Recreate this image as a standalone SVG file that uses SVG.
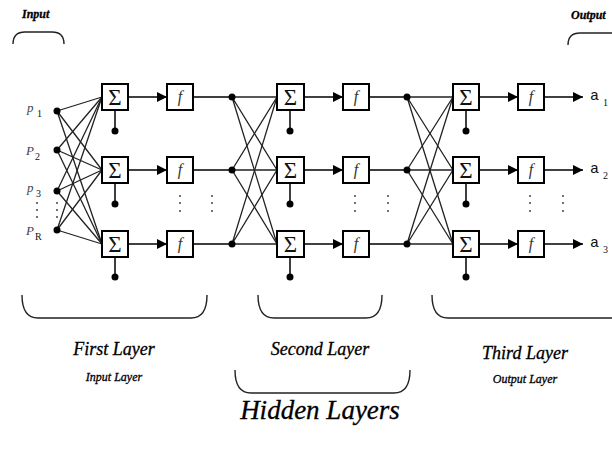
<svg xmlns="http://www.w3.org/2000/svg" width="612" height="449" viewBox="0 0 612 449">
<defs>
<style>
.box{fill:#fff;stroke:#000;stroke-width:2}
.ln{stroke:#000;stroke-width:1.5;fill:none}
.thin{stroke:#222;stroke-width:1.3;fill:none}
.br{stroke:#222;stroke-width:1.4;fill:none}
.sig{font-family:"Liberation Serif",serif;font-size:23px;text-anchor:middle;fill:#111}
.f{font-family:"Liberation Serif",serif;font-style:italic;font-size:16px;text-anchor:middle;fill:#333}
.lab{font-family:"Liberation Serif",serif;font-style:italic;fill:#000;stroke:#000;stroke-width:0.3}
.p{font-family:"Liberation Serif",serif;font-style:italic;font-size:13px;fill:#444}
.a{font-family:"Liberation Mono",monospace;font-size:15px;fill:#111}
.sub{font-family:"Liberation Serif",serif;font-size:10px;fill:#111}
</style>
<marker id="ah" markerWidth="10" markerHeight="10" refX="10" refY="5" orient="auto" markerUnits="userSpaceOnUse">
<path d="M0,0 L10,5 L0,10 Z" fill="#000"/>
</marker>
</defs>
<rect width="612" height="449" fill="#fff"/>

<g id="connectors">
<g class="thin">
<path d="M57,111 L102,97 M57,111 L102,170 M57,111 L102,244"/>
<path d="M57,150 L102,97 M57,150 L102,170 M57,150 L102,244"/>
<path d="M57,191 L102,97 M57,191 L102,170 M57,191 L102,244"/>
<path d="M57,230 L102,97 M57,230 L102,170 M57,230 L102,244"/>
</g>
<g class="thin">
<path d="M232,97 L277,97 M232,97 L277,170 M232,97 L277,244"/>
<path d="M232,170 L277,97 M232,170 L277,170 M232,170 L277,244"/>
<path d="M232,244 L277,97 M232,244 L277,170 M232,244 L277,244"/>
</g>
<g class="thin">
<path d="M407,97 L453,97 M407,97 L453,170 M407,97 L453,244"/>
<path d="M407,170 L453,97 M407,170 L453,170 M407,170 L453,244"/>
<path d="M407,244 L453,97 M407,244 L453,170 M407,244 L453,244"/>
</g>
<g class="ln">
<path d="M128,97 L167,97" marker-end="url(#ah)"/>
<path d="M128,170 L167,170" marker-end="url(#ah)"/>
<path d="M128,244 L167,244" marker-end="url(#ah)"/>
<path d="M304,97 L343,97" marker-end="url(#ah)"/>
<path d="M304,170 L343,170" marker-end="url(#ah)"/>
<path d="M304,244 L343,244" marker-end="url(#ah)"/>
<path d="M479,97 L518,97" marker-end="url(#ah)"/>
<path d="M479,170 L518,170" marker-end="url(#ah)"/>
<path d="M479,244 L518,244" marker-end="url(#ah)"/>
<path d="M544,97 L583,97" marker-end="url(#ah)"/>
<path d="M544,170 L583,170" marker-end="url(#ah)"/>
<path d="M544,244 L583,244" marker-end="url(#ah)"/>
<path d="M193,97 L232,97 M193,170 L232,170 M193,244 L232,244"/>
<path d="M369,97 L407,97 M369,170 L407,170 M369,244 L407,244"/>
<path d="M115,110 L115,131 M115,183 L115,204 M115,257 L115,277"/>
<path d="M290,110 L290,131 M290,183 L290,204 M290,257 L290,277"/>
<path d="M466,110 L466,131 M466,183 L466,204 M466,257 L466,277"/>
</g>
</g>

<g id="dots" fill="#000">
<circle cx="57" cy="111" r="3.5"/><circle cx="57" cy="150" r="3.5"/><circle cx="57" cy="191" r="3.5"/><circle cx="57" cy="230" r="3.5"/>
<circle cx="232" cy="97" r="3.5"/><circle cx="232" cy="170" r="3.5"/><circle cx="232" cy="244" r="3.5"/>
<circle cx="407" cy="97" r="3.5"/><circle cx="407" cy="170" r="3.5"/><circle cx="407" cy="244" r="3.5"/>
<circle cx="115" cy="131" r="3.5"/><circle cx="115" cy="204" r="3.5"/><circle cx="115" cy="277" r="3.5"/>
<circle cx="290" cy="131" r="3.5"/><circle cx="290" cy="204" r="3.5"/><circle cx="290" cy="277" r="3.5"/>
<circle cx="466" cy="131" r="3.5"/><circle cx="466" cy="204" r="3.5"/><circle cx="466" cy="277" r="3.5"/>
</g>

<g id="ellipses" fill="#444">
<circle cx="37" cy="203" r="1"/><circle cx="37" cy="210" r="1"/><circle cx="37" cy="217" r="1"/>
<circle cx="57" cy="203" r="1"/><circle cx="57" cy="210" r="1"/><circle cx="57" cy="217" r="1"/>
<circle cx="180" cy="196" r="1"/><circle cx="180" cy="203" r="1"/><circle cx="180" cy="211" r="1"/>
<circle cx="212" cy="196" r="1"/><circle cx="212" cy="203" r="1"/><circle cx="212" cy="211" r="1"/>
<circle cx="355" cy="196" r="1"/><circle cx="355" cy="203" r="1"/><circle cx="355" cy="211" r="1"/>
<circle cx="388" cy="196" r="1"/><circle cx="388" cy="203" r="1"/><circle cx="388" cy="211" r="1"/>
<circle cx="530" cy="196" r="1"/><circle cx="530" cy="203" r="1"/><circle cx="530" cy="211" r="1"/>
<circle cx="563" cy="196" r="1"/><circle cx="563" cy="203" r="1"/><circle cx="563" cy="211" r="1"/>
</g>

<g id="sum1-1"><rect class="box" x="102" y="84" width="26" height="26"/><text class="sig" x="115" y="105">Σ</text></g>
<g id="sum1-2"><rect class="box" x="102" y="157" width="26" height="26"/><text class="sig" x="115" y="178">Σ</text></g>
<g id="sum1-3"><rect class="box" x="102" y="231" width="26" height="26"/><text class="sig" x="115" y="252">Σ</text></g>
<g id="f1-1"><rect class="box" x="167" y="84" width="26" height="26"/><text class="f" x="180" y="102">f</text></g>
<g id="f1-2"><rect class="box" x="167" y="157" width="26" height="26"/><text class="f" x="180" y="175">f</text></g>
<g id="f1-3"><rect class="box" x="167" y="231" width="26" height="26"/><text class="f" x="180" y="249">f</text></g>

<g id="sum2-1"><rect class="box" x="277" y="84" width="27" height="26"/><text class="sig" x="290.5" y="105">Σ</text></g>
<g id="sum2-2"><rect class="box" x="277" y="157" width="27" height="26"/><text class="sig" x="290.5" y="178">Σ</text></g>
<g id="sum2-3"><rect class="box" x="277" y="231" width="27" height="26"/><text class="sig" x="290.5" y="252">Σ</text></g>
<g id="f2-1"><rect class="box" x="343" y="84" width="26" height="26"/><text class="f" x="356" y="102">f</text></g>
<g id="f2-2"><rect class="box" x="343" y="157" width="26" height="26"/><text class="f" x="356" y="175">f</text></g>
<g id="f2-3"><rect class="box" x="343" y="231" width="26" height="26"/><text class="f" x="356" y="249">f</text></g>

<g id="sum3-1"><rect class="box" x="453" y="84" width="26" height="26"/><text class="sig" x="466" y="105">Σ</text></g>
<g id="sum3-2"><rect class="box" x="453" y="157" width="26" height="26"/><text class="sig" x="466" y="178">Σ</text></g>
<g id="sum3-3"><rect class="box" x="453" y="231" width="26" height="26"/><text class="sig" x="466" y="252">Σ</text></g>
<g id="f3-1"><rect class="box" x="518" y="84" width="26" height="26"/><text class="f" x="531" y="102">f</text></g>
<g id="f3-2"><rect class="box" x="518" y="157" width="26" height="26"/><text class="f" x="531" y="175">f</text></g>
<g id="f3-3"><rect class="box" x="518" y="231" width="26" height="26"/><text class="f" x="531" y="249">f</text></g>

<g id="input-labels">
<text class="p" x="27" y="112">p</text><text class="sub" x="37" y="117">1</text>
<text class="p" x="26" y="155">P</text><text class="sub" x="35" y="160">2</text>
<text class="p" x="27" y="192">p</text><text class="sub" x="36" y="197">3</text>
<text class="p" x="26" y="235">P</text><text class="sub" x="35" y="240">R</text>
</g>

<g id="output-labels">
<text class="a" x="590" y="100">a</text><text class="sub" x="603" y="106">1</text>
<text class="a" x="590" y="173">a</text><text class="sub" x="603" y="179">2</text>
<text class="a" x="590" y="247">a</text><text class="sub" x="603" y="253">3</text>
</g>

<g id="top-brackets">
<text class="lab" x="22" y="18" font-size="12" font-weight="bold">Input</text>
<path class="br" d="M13,44 Q13,32 25,32 L52,32 Q64,32 64,44"/>
<text class="lab" x="571" y="19" font-size="12" font-weight="bold">Output</text>
<path class="br" d="M568,45 Q568,33 580,33 L612,33"/>
</g>

<g id="layer-brackets">
<path class="br" d="M22,295 Q22,318 38,318 L191,318 Q207,318 207,295"/>
<path class="br" d="M258,295 Q258,318 274,318 L366,318 Q382,318 382,295"/>
<path class="br" d="M432,295 Q432,318 448,318 L612,318"/>
<path class="br" d="M235,370 Q235,393 251,393 L394,393 Q410,393 410,370"/>
</g>

<g id="layer-labels">
<text class="lab" x="114" y="355" font-size="18" text-anchor="middle">First Layer</text>
<text class="lab" x="114" y="381" font-size="12" text-anchor="middle">Input Layer</text>
<text class="lab" x="320" y="355" font-size="18" text-anchor="middle">Second Layer</text>
<text class="lab" x="525" y="359" font-size="18" text-anchor="middle">Third Layer</text>
<text class="lab" x="525" y="383" font-size="12" text-anchor="middle">Output Layer</text>
<text class="lab" x="320" y="419" font-size="27" text-anchor="middle">Hidden Layers</text>
</g>
</svg>
